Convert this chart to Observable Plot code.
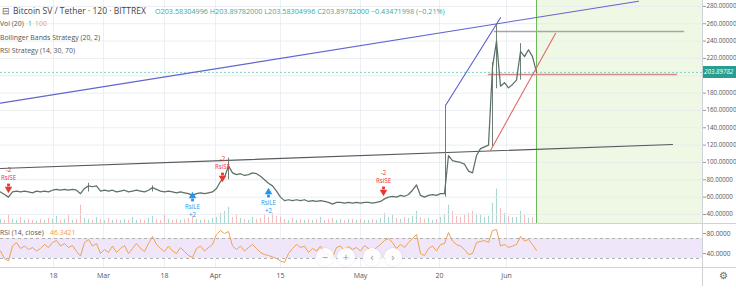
<!DOCTYPE html>
<html><head><meta charset="utf-8">
<script src="https://cdn.jsdelivr.net/npm/d3@7"></script>
<script src="https://cdn.jsdelivr.net/npm/@observablehq/plot@0.6"></script>
<style>
body{margin:0;background:#fff;font-family:"Open Sans",sans-serif;}
#wrap{position:relative;width:736px;height:292px;overflow:hidden;background:#fff;}
.layer{position:absolute;left:0;}
.lbl{position:absolute;white-space:nowrap;line-height:1;}
.sep{position:absolute;background:#cfd3d8;}
.btn{position:absolute;width:18px;height:18px;border-radius:50%;background:rgba(255,255,255,0.85);box-shadow:0 0 2px rgba(0,0,0,0.15);color:#999;font-size:11px;text-align:center;line-height:17px;}
</style></head><body><div id="wrap"></div>
<script>
// ---- data ----
const closes = [66,63,60,66,67,66,67,66,65,67,66,67,66,68,69,68,69,68,69,68,
64,70,73,72,73,67,68,67,68,66,67,68,66,67,68,67,66,68,71,69,
67,66,67,66,65,66,65,64,62,64,65,64,65,66,70,78,83,96,88,86,
87,85,86,88,87,84,80,76,73,67,60,56,57,56,57,56,57,55,56,55,
56,55,54,52,54,54,53,54,53,54,53,54,54,53,54,55,58,60,61,60,
62,61,63,68,74,62,60,62,63,62,64,64,108,102,101,100,98,90,88,108,
116,118,120,210,240,188,192,186,190,195,228,222,230,222,204];
const volumes = [4,3,8,4,3,6,3,4,3,2,4,3,5,4,7,3,4,8,3,4,
18,5,4,3,6,4,3,5,3,4,3,4,3,6,3,4,3,5,7,4,
3,9,4,3,4,3,4,5,7,4,3,4,3,5,6,10,12,16,6,8,
5,4,3,6,4,5,9,6,10,7,6,4,3,5,3,4,3,4,3,4,
6,3,4,5,3,4,3,4,4,3,4,3,3,4,3,5,10,6,8,5,
4,6,5,7,12,6,4,5,3,4,6,9,18,12,7,6,8,10,12,9,
8,6,7,20,34,15,10,7,6,6,12,8,5,6,4];
const rsi = [45,30,25,55,62,50,55,48,52,45,50,58,52,62,66,55,60,52,56,44,
35,62,68,55,60,40,48,42,55,42,50,56,40,50,60,50,44,60,74,58,
50,44,55,45,40,52,44,36,32,50,55,45,52,58,78,86,80,84,55,48,
55,45,52,58,50,42,38,36,33,30,25,22,40,50,58,52,55,42,50,45,
55,40,38,32,52,55,45,54,48,52,45,56,50,44,52,58,66,70,62,50,
58,52,62,70,78,40,36,50,55,45,58,60,82,65,58,55,48,38,40,62,
64,66,62,86,88,55,58,52,55,58,74,65,68,58,46];
const xTickIdx = [13.25, 25.75, 41, 53.75, 70, 90, 109.75, 126.5];
const xTickLabels = ["18","Mar","18","Apr","15","May","20","Jun"];
const yTicks = [40,60,80,100,120,140,160,180,200,220,240,260,280];
const rsiTicks = [40,80];
const rsiBand = [30,70];
const lastPrice = 203.89782;
const forecastStart = 134;
const xEnd = 175.5;
const blueLong = [[0,168.4],[159.5,286]];
const blueShort = [[111.25,165.7],[125,267]];
const blackLine = [[0,93.1],[168,120.7]];
const redRise = [[122.5,113.8],[138.75,248.8]];
const redFlat = [[122,201.5],[169,201.5]];
const grayFlat = [[123.5,251],[170.75,251]];
const wicks = [[57,80,105],[111.25,60,166],[123,118,215],[124,185,258],[130,195,237],[22,66,76],[38,66,73]];
const signalsSE = [[2,71.1],[55.5,83.8],[95.75,67.7]];
const signalsLE = [[48,59.6],[67,64.2]];

// ---- build ----
const bars = closes.map((c,i)=>({i, c, v: volumes[i], r: rsi[i], up: i===0 || c>=closes[i-1]}));
const wrap = document.getElementById("wrap");
const W = 736, MR = 34;
const xs = {domain:[0,xEnd], label:null};
const font = "'Open Sans', sans-serif";
const SE = "#e53935", LE = "#2196f3";

function add(el, top){ el.classList.add("layer"); el.style.top = top+"px"; wrap.appendChild(el); }

// volume + background layer
const volPlot = Plot.plot({
  width: W, height: 223, marginLeft:0, marginRight:MR, marginTop:0, marginBottom:0,
  x: {...xs, axis:null}, y:{domain:[0,220], axis:null, label:null},
  style:{background:"transparent", fontFamily:font},
  marks:[
    Plot.rect([forecastStart], {x1: d=>d, x2: ()=>xEnd, y1: ()=>0, y2: ()=>220, fill:"#eef8e5"}),
    Plot.ruleX(xTickIdx, {stroke:"#eceff3"}),
    Plot.ruleX(bars, {x:"i", y1:()=>0, y2:"v", stroke: d=>d.up ? "#8fc9c0" : "#f2a7a5", strokeWidth:1.1, strokeOpacity:0.75})
  ]
});
add(volPlot, 0);

// main price layer
const mainPlot = Plot.plot({
  width: W, height: 223, marginLeft:0, marginRight:MR, marginTop:0, marginBottom:0,
  x: {...xs, axis:null}, y:{domain:[29.6,286.8], label:null},
  style:{background:"transparent", fontFamily:font, color:"#555", overflow:"visible"},
  marks:[
    Plot.ruleY(yTicks, {stroke:"#e8ebef", strokeOpacity:0.9}),
    Plot.ruleX([forecastStart], {stroke:"#6fb85a"}),
    Plot.ruleY([lastPrice], {stroke:"#7fd0c4", strokeDasharray:"2,2"}),
    Plot.line(blueLong, {x:d=>d[0], y:d=>d[1], stroke:"#6265cf", strokeWidth:1.1}),
    Plot.line(blueShort, {x:d=>d[0], y:d=>d[1], stroke:"#5b5ec8", strokeWidth:1.1}),
    Plot.line(blackLine, {x:d=>d[0], y:d=>d[1], stroke:"#555a5e", strokeWidth:1.1}),
    Plot.line(redFlat, {x:d=>d[0], y:d=>d[1], stroke:"#d98a86", strokeWidth:1.6}),
    Plot.line(grayFlat, {x:d=>d[0], y:d=>d[1], stroke:"#a5a5a5", strokeWidth:1.6}),
    Plot.ruleX(wicks, {x:d=>d[0], y1:d=>d[1], y2:d=>d[2], stroke:"#6d7f76", strokeWidth:1}),
    Plot.line(bars, {x:"i", y:"c", stroke:"#5d7167", strokeWidth:1.25}),
    Plot.line(redRise, {x:d=>d[0], y:d=>d[1], stroke:"#e06b62", strokeWidth:1.1}),
    // short-entry arrows (down)
    Plot.dot(signalsSE, {x:d=>d[0], y:d=>d[1], symbol:"square", r:1.6, dy:-2.5, fill:SE, stroke:null}),
    Plot.dot(signalsSE, {x:d=>d[0], y:d=>d[1], symbol:"triangle", rotate:180, r:2.8, dy:1.5, fill:SE, stroke:null}),
    Plot.text(signalsSE, {x:d=>d[0], y:d=>d[1], text:()=>"RsiSE", dy:-9.5, fill:SE, fontSize:6.2}),
    Plot.text(signalsSE, {x:d=>d[0], y:d=>d[1], text:()=>"-2", dy:-17.5, fill:SE, fontSize:6.2}),
    // long-entry arrows (up)
    Plot.dot(signalsLE, {x:d=>d[0], y:d=>d[1], symbol:"square", r:1.6, dy:2.5, fill:LE, stroke:null}),
    Plot.dot(signalsLE, {x:d=>d[0], y:d=>d[1], symbol:"triangle", r:2.8, dy:-1.5, fill:LE, stroke:null}),
    Plot.text(signalsLE, {x:d=>d[0], y:d=>d[1], text:()=>"RsiLE", dy:9.5, fill:LE, fontSize:6.2}),
    Plot.text(signalsLE, {x:d=>d[0], y:d=>d[1], text:()=>"+2", dy:17.5, fill:LE, fontSize:6.2}),
    Plot.axisY(yTicks.filter(t=>Math.abs(t-lastPrice)>10), {anchor:"right", label:null, tickSize:3, tickPadding:1, fontSize:6.2, tickFormat:d=>d.toFixed(5), stroke:"#999"})
  ]
});
add(mainPlot, 0);

// RSI layer
const rsiPlot = Plot.plot({
  width: W, height: 69, marginLeft:0, marginRight:MR, marginTop:0, marginBottom:25,
  x: {...xs}, y:{domain:[12,100], label:null},
  style:{background:"transparent", fontFamily:font, color:"#555", overflow:"visible"},
  marks:[
    Plot.ruleX(xTickIdx, {stroke:"#eceff3"}),
    Plot.rect([rsiBand], {x1:()=>0, x2:()=>xEnd, y1:d=>d[0], y2:d=>d[1], fill:"#f0e6fa"}),
    Plot.ruleY(rsiBand, {stroke:"#b0b0b0", strokeDasharray:"3,3"}),
    Plot.line(bars, {x:"i", y:"r", stroke:"#f0a14f", strokeWidth:1}),
    Plot.axisY(rsiTicks, {anchor:"right", label:null, tickSize:3, tickPadding:1, fontSize:6.5, tickFormat:d=>d.toFixed(4), stroke:"#999"}),
    Plot.axisX(xTickIdx, {anchor:"bottom", label:null, tickSize:0, tickPadding:6, fontSize:7, tickFormat:d=>xTickLabels[xTickIdx.indexOf(d)]})
  ]
});
add(rsiPlot, 223);

// separators
function sep(l,t,w,h){const d=document.createElement("div");d.className="sep";Object.assign(d.style,{left:l+"px",top:t+"px",width:w+"px",height:h+"px"});wrap.appendChild(d);}
sep(0,223,736,1); sep(0,267,736,1); sep(702,0,1,286);

// text helpers
const cv = document.createElement("canvas").getContext("2d");
function fitSize(txt, targetW, weight){ cv.font = (weight||400)+" 10px 'Open Sans'"; return 10*targetW/cv.measureText(txt).width; }
function label(txt, x, yc, fs, color, weight){
  const d=document.createElement("div"); d.className="lbl"; d.textContent=txt;
  Object.assign(d.style,{left:x+"px", top:(yc-fs*0.6)+"px", fontSize:fs+"px", color, fontWeight:weight||400});
  wrap.appendChild(d); return d;
}
const subFs = fitSize("Bollinger Bands Strategy (20, 2)", 100);
const titleFs = fitSize("Bitcoin SV / Tether · 120 · BITTREX", 133);
const ohlcFs = fitSize("O203.58304996 H203.89782000 L203.58304996 C203.89782000 −0.43471998 (−0.21%)", 290);
label("⊟", 2, 12, titleFs, "#666");
label("Bitcoin SV / Tether · 120 · BITTREX", 13, 12, titleFs, "#444");
label("O203.58304996 H203.89782000 L203.58304996 C203.89782000 −0.43471998 (−0.21%)", 155, 12, ohlcFs, "#41a99a");
label("Vol (20)", 0, 25, subFs, "#555");
label("1", 28, 25, subFs, "#41a99a");
label("100", 35, 25, subFs, "#f0a04b");
label("Bollinger Bands Strategy (20, 2)", 0, 39, subFs, "#555");
label("RSI Strategy (14, 30, 70)", 0, 52, subFs, "#555");
label("RSI (14, close)", 0, 234, subFs, "#555");
label("46.3421", 50, 234, subFs, "#f0a04b");

// last price tag
const yPx = mainPlot.scale("y").apply(lastPrice);
const tag = document.createElement("div");
Object.assign(tag.style,{position:"absolute",left:"703px",top:(yPx-6)+"px",width:"33px",height:"12px",background:"#2a9d8f",color:"#fff",fontSize:"6.3px",fontStyle:"italic",lineHeight:"12px",paddingLeft:"1px",boxSizing:"border-box",fontFamily:font,whiteSpace:"nowrap",overflow:"hidden"});
tag.textContent = lastPrice.toFixed(5);
wrap.appendChild(tag);

// navigation buttons & gear
[["−",316],["+",337],["‹",363],["›",384]].forEach(([g,x])=>{const b=document.createElement("div");b.className="btn";b.textContent=g;b.style.left=x+"px";b.style.top="248px";wrap.appendChild(b);});
label("⚙", 719, 276, 10, "#666");
</script></body></html>
